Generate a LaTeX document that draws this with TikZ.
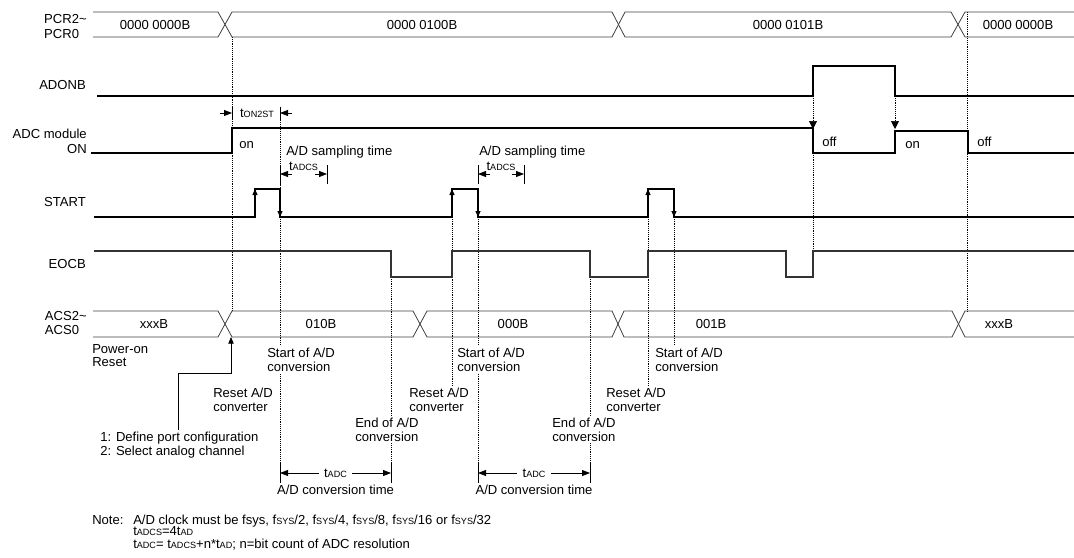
\documentclass[tikz,border=0pt]{standalone}
\usepackage{fontspec}
\setmainfont{Liberation Sans}
\usetikzlibrary{arrows.meta}
\newcommand{\sml}[1]{{\fontsize{6.8}{7}\selectfont #1}}
\tikzset{
  txt/.style={font=\fontsize{9.8}{10}\selectfont, inner sep=0pt},
  remark/.style={txt, fill=white, inner sep=1.5pt, align=left, anchor=north west},
  wave/.style={line width=0.8pt},
  bus/.style={line width=0.6pt, black!75},
  guide/.style={line width=0.5pt, dash pattern=on 0.6pt off 0.8pt},
  edgetip/.style={-{Triangle[length=4.5pt,width=3.8pt]}, line width=0.8pt},
  dimtip/.style={-{Triangle[length=6pt,width=4.5pt]}, line width=0.6pt},
  droptip/.style={guide, -{Triangle[length=6pt,width=6pt]}},
}
\begin{document}
\begin{tikzpicture}[x=0.75pt,y=-0.75pt]
    \useasboundingbox (0,0) rectangle (1074,557);
    %% Guide lines
    \draw[guide] (232,37) -- (232,311);
    \draw[guide] (280,107) -- (280,481);
    \draw[guide] (391,277) -- (391,481);
    \draw[guide] (452,189) -- (452,395);
    \draw[guide] (478,217) -- (478,481);
    \draw[guide] (590,277) -- (590,481);
    \draw[guide] (648,189) -- (648,395);
    \draw[guide] (674,217) -- (674,355);
    \draw[guide] (813,153) -- (813,277);
    \draw[guide] (967,12) -- (967,311);
    \draw[droptip] (813,96) -- (813,129);
    \draw[droptip] (895,96) -- (895,129);
    %% Signal names
    \node[txt, anchor=east, align=left, font=\fontsize{9.8}{11.3}\selectfont] (pcrname) at (87,26.5) {PCR2\textasciitilde\\PCR0};
    \node[txt, anchor=east] (adonbname) at (86,85) {ADONB};
    \node[txt, anchor=east, align=right, font=\fontsize{9.8}{11}\selectfont] (adcname) at (87,141) {ADC module\\ON};
    \node[txt, anchor=east] (startname) at (86,202) {START};
    \node[txt, anchor=east] (eocbname) at (86,264) {EOCB};
    \node[txt, anchor=east, align=left, font=\fontsize{9.8}{10.5}\selectfont] (acsname) at (87,322.5) {ACS2\textasciitilde\\ACS0};
    %% PCR bus
    \draw[bus] (93,12) -- (218,12) -- (232,37) -- (612,37) -- (625,12) -- (951,12) -- (965,37) -- (1074,37);
    \draw[bus] (93,37) -- (218,37) -- (232,12) -- (612,12) -- (625,37) -- (951,37) -- (965,12) -- (1074,12);
    \node[txt] (pcra) at (155,25) {0000 0000B};
    \node[txt] (pcrb) at (422,25) {0000 0100B};
    \node[txt] (pcrc) at (788,25) {0000 0101B};
    \node[txt] (pcrd) at (1018,25) {0000 0000B};
    %% ADONB
    \draw[wave] (97,96) -- (813,96) -- (813,66) -- (895,66) -- (895,96) -- (1074,96);
    %% ADC module on/off
    \draw[wave] (91,153) -- (232,153) -- (232,128) -- (813,128) -- (813,153) -- (895,153) -- (895,131) -- (968,131) -- (968,153) -- (1074,153);
    \node[txt, anchor=west] (ona) at (239,145) {on};
    \node[txt, anchor=west] (offa) at (822,141.5) {off};
    \node[txt, anchor=west] (onb) at (905,145) {on};
    \node[txt, anchor=west] (offb) at (977,141.5) {off};
    %% t_ON2ST
    \draw[line width=0.6pt] (232,107) -- (232,120);
    \draw[line width=0.6pt] (280,107) -- (280,120);
    \draw[dimtip] (220,113) -- (232,113);
    \draw[dimtip] (292,113) -- (280,113);
    \node[txt] (ton) at (257,113) {t\sml{ON2ST}};
    %% Sampling time
    \node[txt, anchor=west] (sampa) at (286,152.5) {A/D sampling time};
    \node[txt, anchor=west] (sampb) at (479,152.5) {A/D sampling time};
    \foreach \xa/\xb in {280/327, 478/524} {
        \draw[line width=0.6pt] (\xa,165) -- (\xa,184);
        \draw[line width=0.6pt] (\xb,165) -- (\xb,184);
        \draw[dimtip] (\xa+12,174) -- (\xa,174);
        \draw[dimtip] (\xb-12,174) -- (\xb,174);
        \node[txt] at ({(\xa+\xb)/2},166) {t\sml{ADCS}};
    }
    %% START
    \draw[wave] (94,217) -- (255,217) -- (255,189) -- (280,189) -- (280,217) -- (452,217) -- (452,189) -- (478,189) -- (478,217) -- (648,217) -- (648,189) -- (674,189) -- (674,217) -- (1074,217);
    \foreach \xu/\xd in {255/280, 452/478, 648/674} {
        \draw[edgetip] (\xu,217) -- (\xu,189);
        \draw[edgetip] (\xd,189) -- (\xd,217);
    }
    %% EOCB
    \draw[wave, black!80] (94,251) -- (391,251) -- (391,277) -- (452,277) -- (452,251) -- (590,251) -- (590,277) -- (648,277) -- (648,251) -- (786,251) -- (786,277) -- (813,277) -- (813,251) -- (1074,251);
    %% ACS bus
    \draw[bus] (93,311) -- (218,311) -- (232,337) -- (413,337) -- (427,311) -- (612,311) -- (624,337) -- (952,337) -- (965,311) -- (1074,311);
    \draw[bus] (93,337) -- (218,337) -- (232,311) -- (413,311) -- (427,337) -- (612,337) -- (624,311) -- (952,311) -- (965,337) -- (1074,337);
    \node[txt] (acsa) at (154,324) {xxxB};
    \node[txt] (acsb) at (321,324) {010B};
    \node[txt] (acsc) at (513,324) {000B};
    \node[txt] (acsd) at (711,324) {001B};
    \node[txt] (acse) at (999,324) {xxxB};
    %% Events
    \node[remark] (por) at (90,342) {Power-on\\Reset};
    \node[remark] (starta) at (265,346) {Start of A/D\\conversion};
    \node[remark] (reseta) at (211,386) {Reset A/D\\converter};
    \node[remark] (defcfg) at (98,430) {1: Define port configuration\\2: Select analog channel};
    \node[remark] (startb) at (455,346) {Start of A/D\\conversion};
    \node[remark] (resetb) at (407,386) {Reset A/D\\converter};
    \node[remark] (enda) at (353,416) {End of A/D\\conversion};
    \node[remark] (startc) at (653,346) {Start of A/D\\conversion};
    \node[remark] (resetc) at (604,386) {Reset A/D\\converter};
    \node[remark] (endb) at (550,416) {End of A/D\\conversion};
    \coordinate (bend) at (178,373);
    \coordinate (rst) at (231,337);
    \draw[line width=0.6pt, -{Triangle[length=5pt,width=4pt]}] (bend |- defcfg.north) -- (bend) -| (rst);
    %% Conversion time
    \foreach \xa/\xb in {280/391, 478/590} {
        \draw[line width=0.6pt] (\xa,463) -- (\xa,483);
        \draw[line width=0.6pt] (\xb,463) -- (\xb,483);
        \node[txt, fill=white, inner xsep=4pt] (tadc) at ({(\xa+\xb)/2},473) {t\sml{ADC}};
        \draw[dimtip] (tadc) -- (\xa,473);
        \draw[dimtip] (tadc) -- (\xb,473);
        \node[txt] at ({(\xa+\xb)/2},490) {A/D conversion time};
    }
    %% Note
    \node[txt, anchor=base west] (notehd) at (92,524) {Note:};
    \node[txt, anchor=base west] (notea) at (133,524) {A/D clock must be fsys, f\sml{SYS}/2, f\sml{SYS}/4, f\sml{SYS}/8, f\sml{SYS}/16 or f\sml{SYS}/32};
    \node[txt, anchor=base west] (noteb) at (133,535) {t\sml{ADCS}=4t\sml{AD}};
    \node[txt, anchor=base west] (notec) at (133,548) {t\sml{ADC}= t\sml{ADCS}+n*t\sml{AD}; n=bit count of ADC resolution};
\end{tikzpicture}
\end{document}
